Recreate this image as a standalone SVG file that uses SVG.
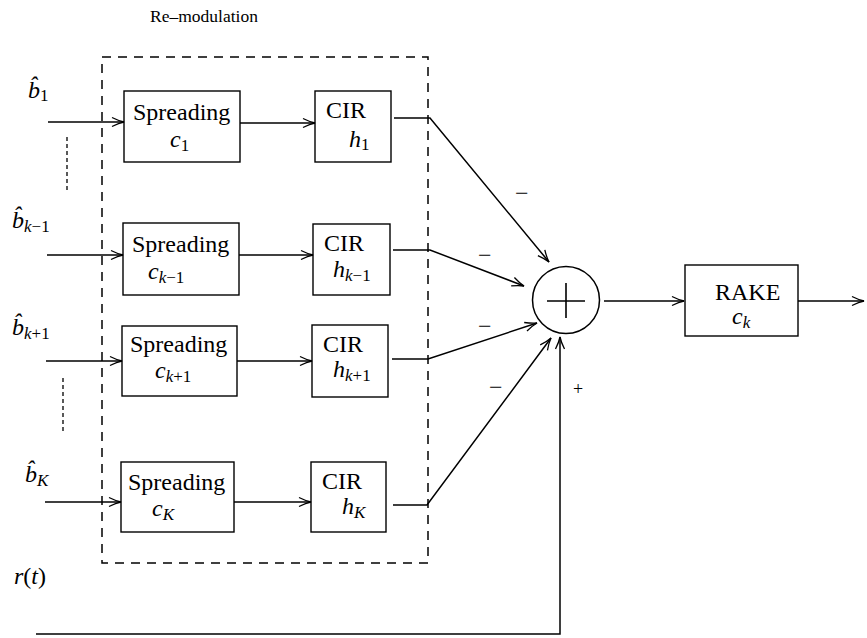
<svg xmlns="http://www.w3.org/2000/svg" width="867" height="638" viewBox="0 0 867 638">
<style>
.box{fill:#fff;stroke:#000;stroke-width:1.4}
.t{font-family:"Liberation Serif","Times New Roman",serif;font-size:24px;fill:#000}
.m{font-family:"Liberation Serif","Times New Roman",serif;font-style:italic;font-size:24px;fill:#000}
.s{font-size:17px;font-style:normal}
.si{font-size:17px;font-style:italic}
.ln{fill:none;stroke:#000;stroke-width:1.5}
.sg{font-family:"Liberation Serif","Times New Roman",serif;font-size:24px;fill:#000}
</style>
<defs>
<marker id="ar" viewBox="-14 -6 16 12" refX="0" refY="0" markerWidth="16" markerHeight="12" markerUnits="userSpaceOnUse" orient="auto">
<path d="M-12,-4.5 Q-5,-1 0,0 Q-5,1 -12,4.5" fill="none" stroke="#000" stroke-width="1.3"/>
</marker>
</defs>
<rect width="867" height="638" fill="#fff"/>

<g id="remod">
<rect x="102" y="57" width="326" height="506" fill="none" stroke="#000" stroke-width="1.5" stroke-dasharray="9,7"/>
<text class="t" x="150" y="22" style="font-size:17.5px">Re–modulation</text>
</g>

<g id="labels">
<text class="m" x="28" y="98">b̂<tspan class="s" dy="3">1</tspan></text>
<text class="m" x="12" y="228">b̂<tspan class="si" dy="4">k</tspan><tspan class="s">−1</tspan></text>
<text class="m" x="12" y="335">b̂<tspan class="si" dy="4">k</tspan><tspan class="s">+1</tspan></text>
<text class="m" x="25" y="482">b̂<tspan class="si" dy="4">K</tspan></text>
<text class="m" x="14" y="584">r<tspan style="font-style:normal">(</tspan>t<tspan style="font-style:normal">)</tspan></text>
<line x1="67" y1="137" x2="67" y2="190" stroke="#000" stroke-width="1.3" stroke-dasharray="4,3"/>
<line x1="63" y1="378" x2="63" y2="432" stroke="#000" stroke-width="1.3" stroke-dasharray="4,3"/>
</g>

<g id="spread1"><rect class="box" x="124" y="91" width="116" height="71"/>
<text class="t" x="133" y="120">Spreading</text><text class="m" x="170" y="147">c<tspan class="s" dy="4">1</tspan></text></g>
<g id="spread2"><rect class="box" x="123" y="223" width="116" height="72"/>
<text class="t" x="132" y="252">Spreading</text><text class="m" x="148" y="279">c<tspan class="si" dy="4">k</tspan><tspan class="s">−1</tspan></text></g>
<g id="spread3"><rect class="box" x="122" y="326" width="115" height="70"/>
<text class="t" x="130" y="352">Spreading</text><text class="m" x="155" y="378">c<tspan class="si" dy="4">k</tspan><tspan class="s">+1</tspan></text></g>
<g id="spread4"><rect class="box" x="121" y="462" width="113" height="70"/>
<text class="t" x="128" y="490">Spreading</text><text class="m" x="152" y="516">c<tspan class="si" dy="4">K</tspan></text></g>

<g id="cir1"><rect class="box" x="315" y="91" width="76" height="71"/>
<text class="t" x="326" y="118">CIR</text><text class="m" x="349" y="147">h<tspan class="s" dy="3">1</tspan></text></g>
<g id="cir2"><rect class="box" x="313" y="224" width="77" height="71"/>
<text class="t" x="324" y="251">CIR</text><text class="m" x="333" y="277">h<tspan class="si" dy="4">k</tspan><tspan class="s">−1</tspan></text></g>
<g id="cir3"><rect class="box" x="312" y="325" width="76" height="72"/>
<text class="t" x="323" y="352">CIR</text><text class="m" x="333" y="377">h<tspan class="si" dy="4">k</tspan><tspan class="s">+1</tspan></text></g>
<g id="cir4"><rect class="box" x="311" y="462" width="75" height="70"/>
<text class="t" x="322" y="489">CIR</text><text class="m" x="342" y="514">h<tspan class="si" dy="4">K</tspan></text></g>

<g id="sum">
<circle cx="566" cy="300" r="33.5" fill="#fff" stroke="#000" stroke-width="1.5"/>
<path d="M547,301 H585 M566,283 V318" stroke="#000" stroke-width="1.6" fill="none"/>
</g>

<g id="rake"><rect class="box" x="685" y="265" width="113" height="71"/>
<text class="t" x="715" y="300">RAKE</text><text class="m" x="732" y="324">c<tspan class="si" dy="4">k</tspan></text></g>

<g id="connectors">
<path class="ln" d="M48,122 H124" marker-end="url(#ar)"/>
<path class="ln" d="M47,255 H123" marker-end="url(#ar)"/>
<path class="ln" d="M46,361 H122" marker-end="url(#ar)"/>
<path class="ln" d="M45,502 H121" marker-end="url(#ar)"/>
<path class="ln" d="M240,123 H315" marker-end="url(#ar)"/>
<path class="ln" d="M239,255 H313" marker-end="url(#ar)"/>
<path class="ln" d="M237,361 H312" marker-end="url(#ar)"/>
<path class="ln" d="M234,502 H311" marker-end="url(#ar)"/>
<path class="ln" d="M394,118 H430 L549,262" marker-end="url(#ar)"/>
<path class="ln" d="M393,250 H430 L524,286" marker-end="url(#ar)"/>
<path class="ln" d="M392,359 H428 L537,323" marker-end="url(#ar)"/>
<path class="ln" d="M393,505 H427 L551,338" marker-end="url(#ar)"/>
<path class="ln" d="M604,301 H684" marker-end="url(#ar)"/>
<path class="ln" d="M798,301 H864" marker-end="url(#ar)"/>
<path class="ln" d="M36,634 H560 V337" marker-end="url(#ar)"/>
<text class="sg" x="515" y="201">−</text>
<text class="sg" x="478" y="263">−</text>
<text class="sg" x="478" y="334">−</text>
<text class="sg" x="489" y="395">−</text>
<text class="sg" x="573" y="395" style="font-size:18px">+</text>
</g>
</svg>
